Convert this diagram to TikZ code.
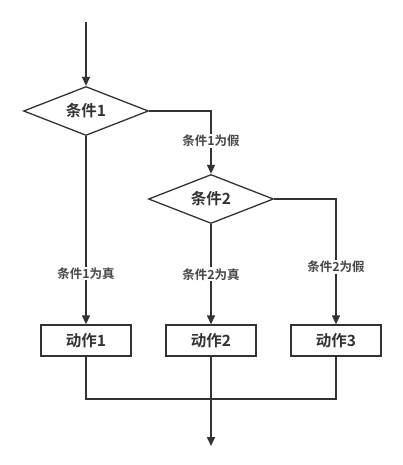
\documentclass[tikz,border=0pt]{standalone}
\usepackage{fontspec}
\newfontfamily\cjk{Noto Sans CJK SC}[BoldFont={* Bold}]
\usetikzlibrary{shapes.geometric,arrows.meta}
\definecolor{ink}{HTML}{333333}
\begin{document}
\begin{tikzpicture}[x=1pt,y=-1pt,
  line width=1.3pt, draw=ink,
  arr/.style={-{Triangle[length=9pt,width=8pt]}},
  cond/.style={diamond,draw=ink,line width=1.3pt,minimum width=125pt,minimum height=49pt,inner sep=0pt,aspect=2.55,font=\cjk\bfseries\fontsize{15.5}{15.5}\selectfont,text=ink},
  act/.style={rectangle,draw=ink,line width=1.3pt,minimum width=90pt,minimum height=31pt,inner sep=0pt,font=\cjk\bfseries\fontsize{15.5}{15.5}\selectfont,text=ink},
  lab/.style={fill=white,inner sep=1pt,font=\cjk\bfseries\fontsize{12.5}{12.5}\selectfont,text=ink!90}]
\useasboundingbox (0,0) rectangle (403,465);
\coordinate (start) at (86,22);
\node[cond] (c1) at (86,111) {条件1};
\node[cond] (c2) at (211,199) {条件2};
\node[act] (a1) at (86,340.5) {动作1};
\node[act] (a2) at (211,340.5) {动作2};
\node[act] (a3) at (336,340.5) {动作3};
\coordinate (j1) at (86,399);
\coordinate (j2) at (211,399);
\coordinate (j3) at (336,399);
\coordinate (end) at (211,446);
\draw[ink,arr] (start) -- (c1.north);
\draw[ink,arr] (c1.east) -| node[lab,pos=0.74]{条件1为假} (c2.north);
\draw[ink,arr] (c1.south) -- node[lab,pos=0.73]{条件1为真} (a1.north);
\draw[ink,arr] (c2.south) -- node[lab,pos=0.5]{条件2为真} (a2.north);
\draw[ink,arr] (c2.east) -| node[lab,pos=0.77]{条件2为假} (a3.north);
\draw[ink] (a1.south) -- (j1) -- (j3) -- (a3.south);
\draw[ink] (a2.south) -- (j2);
\draw[ink,arr,line width=1.7pt] (j2) -- (end);
\end{tikzpicture}
\end{document}
